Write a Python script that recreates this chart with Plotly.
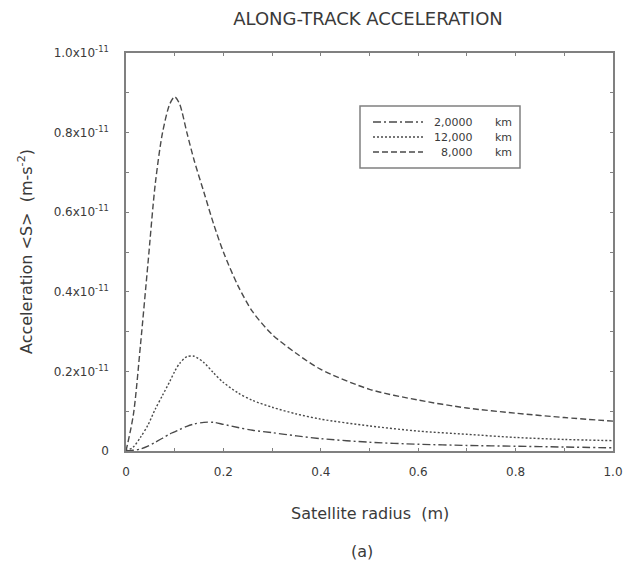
import plotly.graph_objects as go

# Satellite radius (m)
radius = [0, 0.015, 0.03, 0.045, 0.06, 0.075, 0.09, 0.1, 0.11, 0.125, 0.14, 0.16,
          0.18, 0.2, 0.23, 0.26, 0.3, 0.35, 0.4, 0.5, 0.6, 0.7, 0.8, 0.9, 1.0]

# Along-track acceleration, units of 1e-11 m s^-2
acc_20000 = [0, 0.002, 0.005, 0.012, 0.022, 0.032, 0.043, 0.048, 0.054, 0.062, 0.068, 0.072,
             0.072, 0.067, 0.059, 0.052, 0.046, 0.038, 0.031, 0.022, 0.017, 0.014, 0.012, 0.010, 0.008]
acc_12000 = [0, 0.010, 0.035, 0.065, 0.105, 0.140, 0.175, 0.200, 0.220, 0.237, 0.238, 0.222,
             0.196, 0.172, 0.146, 0.127, 0.110, 0.093, 0.080, 0.063, 0.050, 0.042, 0.034, 0.029, 0.026]
acc_8000 = [0, 0.09, 0.27, 0.47, 0.67, 0.80, 0.872, 0.89, 0.872, 0.80, 0.73, 0.65,
            0.57, 0.50, 0.415, 0.35, 0.293, 0.245, 0.205, 0.155, 0.128, 0.108, 0.095, 0.084, 0.075]

series_labels = ["2,0000", "12,000", "8,000"]
series_unit = "km"
series_vals = [acc_20000, acc_12000, acc_8000]
series_dash = ["8px,3px,2px,3px", "2px,2px", "6px,3px"]

y_tickvals = [0, 0.2, 0.4, 0.6, 0.8, 1.0]
y_ticktext = ["0", "0.2x10<sup>-11</sup>", "0.4x10<sup>-11</sup>", "0.6x10<sup>-11</sup>",
              "0.8x10<sup>-11</sup>", "1.0x10<sup>-11</sup>"]
x_tickvals = [0, 0.2, 0.4, 0.6, 0.8, 1.0]
x_ticktext = ["0", "0.2", "0.4", "0.6", "0.8", "1.0"]

line_color = "#4a4a4a"
axis_color = "#808080"
text_color = "#3a3a3a"
font_family = "DejaVu Sans, Arial, sans-serif"

fig = go.Figure()
for label, vals, dash in zip(series_labels, series_vals, series_dash):
    fig.add_trace(go.Scatter(
        x=radius, y=vals, mode="lines", name=f"{label} {series_unit}",
        line=dict(color=line_color, width=1.4, dash=dash, shape="spline", smoothing=0.8),
        showlegend=False,
    ))

axis_common = dict(
    showgrid=False, zeroline=False, showline=True, linecolor=axis_color, linewidth=1.6,
    mirror="ticks", ticks="inside", ticklen=3, tickcolor=axis_color, tickwidth=1,
    tickfont=dict(family=font_family, size=12, color=text_color), automargin=False,
)

fig.update_xaxes(range=[0, 1.0], tickvals=x_tickvals, ticktext=x_ticktext,
                 minor=dict(ticks="inside", dtick=0.1, ticklen=3, tickcolor=axis_color),
                 ticklabelstandoff=9, **axis_common)
fig.update_yaxes(range=[0, 1.0], tickvals=y_tickvals, ticktext=y_ticktext,
                 minor=dict(ticks="inside", dtick=0.1, ticklen=3, tickcolor=axis_color),
                 ticklabelstandoff=13, **axis_common)

# Hand-built legend box (matches the original's compact layout)
PX0, PW, PY0, PH = 126, 487, 451, 398
def px(x):
    return (x - PX0) / PW
def py(y):
    return (PY0 - y) / PH

shapes = [dict(type="rect", xref="paper", yref="paper",
               x0=px(360), x1=px(520), y0=py(168), y1=py(106),
               line=dict(color=axis_color, width=1.5), fillcolor="white", layer="above")]
annotations = []
row_y = [122, 137, 152]
for ry, label, dash in zip(row_y, series_labels, series_dash):
    shapes.append(dict(type="line", xref="paper", yref="paper",
                       x0=px(373), x1=px(423), y0=py(ry), y1=py(ry),
                       line=dict(color=line_color, width=1.4, dash=dash), layer="above"))
    annotations.append(dict(text=label, xref="paper", yref="paper", x=px(475), y=py(ry),
                            xanchor="right", yanchor="middle", showarrow=False,
                            font=dict(family=font_family, size=11, color=text_color)))
    annotations.append(dict(text=series_unit, xref="paper", yref="paper", x=px(493), y=py(ry),
                            xanchor="left", yanchor="middle", showarrow=False,
                            font=dict(family=font_family, size=11, color=text_color)))

annotations += [
    dict(text="Satellite radius&nbsp;&nbsp;(m)", xref="paper", yref="paper",
         x=0.5, y=py(513), xanchor="center", yanchor="middle", showarrow=False,
         font=dict(family=font_family, size=16, color=text_color)),
    dict(text="(a)", xref="paper", yref="paper",
         x=px(362), y=py(551), xanchor="center", yanchor="middle", showarrow=False,
         font=dict(family=font_family, size=16, color=text_color)),
    dict(text="Acceleration &lt;S&gt;&nbsp;&nbsp;(m-s<sup>-2</sup>)", xref="paper", yref="paper",
         x=px(25), y=0.5, xanchor="center", yanchor="middle", showarrow=False,
         textangle=-90,
         font=dict(family=font_family, size=16, color=text_color)),
]

fig.update_layout(
    width=628, height=567,
    margin=dict(l=126, r=15, t=53, b=116),
    paper_bgcolor="white", plot_bgcolor="white",
    font=dict(family=font_family, color=text_color),
    title=dict(text="ALONG-TRACK ACCELERATION", x=368 / 628, xanchor="center",
               y=1 - 19 / 567, yanchor="middle",
               font=dict(family=font_family, size=18, color=text_color)),
    showlegend=False,
    shapes=shapes,
    annotations=annotations,
)

fig.write_html("out.html")
